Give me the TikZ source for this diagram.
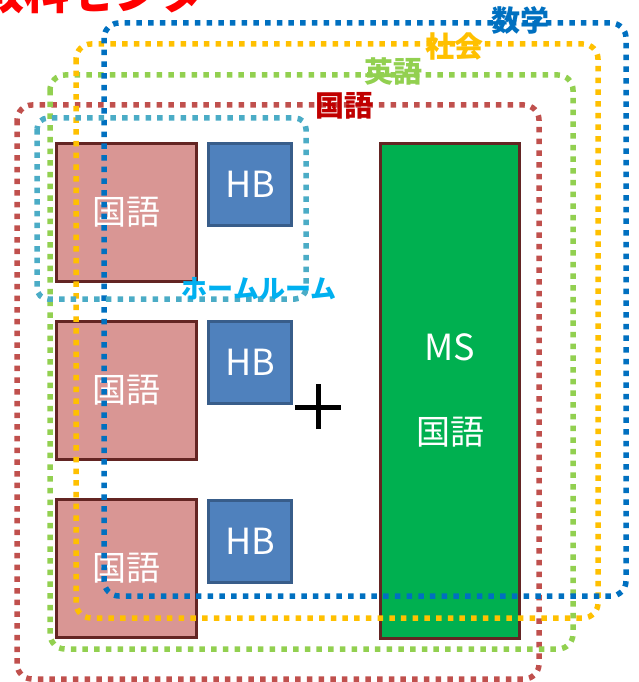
\documentclass[tikz,border=0pt]{standalone}
\usepackage{fontspec}
\setmainfont{Noto Sans CJK JP}
\usetikzlibrary{positioning}

\definecolor{zoneRed}{HTML}{C0504D}
\definecolor{zoneGreen}{HTML}{92D050}
\definecolor{zoneYellow}{HTML}{FFC000}
\definecolor{zoneBlue}{HTML}{0070C0}
\definecolor{zoneHR}{HTML}{4BACC6}
\definecolor{labelRed}{HTML}{C00000}
\definecolor{labelHR}{HTML}{00B0F0}
\definecolor{titleRed}{HTML}{FF0000}
\definecolor{roomFill}{HTML}{D99694}
\definecolor{roomLine}{HTML}{632523}
\definecolor{hbFill}{HTML}{4F81BD}
\definecolor{hbLine}{HTML}{385D8A}
\definecolor{msFill}{HTML}{00B050}

\tikzset{
  room/.style={draw=roomLine, fill=roomFill, line width=3pt, text=white,
    minimum width=140pt, minimum height=138pt, inner sep=0pt,
    font=\fontsize{34}{40}\selectfont},
  hbbox/.style={draw=hbLine, fill=hbFill, line width=3pt, text=white,
    minimum width=83pt, minimum height=82pt, inner sep=0pt,
    font=\fontsize{36}{42}\selectfont},
  zone/.style={line width=5.5pt, dash pattern=on 5.5pt off 6.2pt, rounded corners=15pt},
  zonelabel/.style={inner sep=0pt, font=\fontsize{29}{34}\selectfont\bfseries}
}

\begin{document}
\begin{tikzpicture}[x=1pt, y=-1pt]
    \useasboundingbox (0,0) rectangle (638,682);
    % title, cut off at the top
    \node[anchor=base west, inner sep=0pt, text=titleRed,
      font=\fontsize{45}{50}\selectfont\bfseries] (title) at (-21,10) {教科センター};
    % home rooms
    \node[room] (K1) at (126.5,212.5) {国語};
    \node[room, below=37pt of K1] (K2) {国語};
    \node[room, below=37pt of K2] (K3) {国語};
    \node[hbbox] (HB1) at (250,184.5) {HB};
    \node[hbbox] (HB2) at (250,362.5) {HB};
    \node[hbbox] (HB3) at (250,541) {HB};
    % media space
    \node[draw=roomLine, fill=msFill, line width=3pt, minimum width=139pt,
      minimum height=495pt, inner sep=0pt] (MS) at (450,391) {};
    \node[text=white, font=\fontsize{36}{42}\selectfont] (MSt) at (450,347) {MS};
    \node[text=white, font=\fontsize{34}{40}\selectfont] (MSk) at (450,432) {国語};
    % plus
    \coordinate (plus) at (318,407);
    \draw[line width=5pt] ([yshift=-22pt]plus) -- ([yshift=23pt]plus);
    \draw[line width=5pt] ([xshift=-23pt]plus) -- ([xshift=23pt]plus);
    % zones
    \draw[zone, draw=zoneRed] (17,105) rectangle (539,679);
    \draw[zone, draw=zoneGreen] (50,75) rectangle (573,649);
    \draw[zone, draw=zoneYellow] (76,44) rectangle (598,618);
    \draw[zone, draw=zoneBlue] (104,23) rectangle (626,596);
    \draw[zone, draw=zoneHR, rounded corners=11pt] (37,118) rectangle (306,299);
    % zone labels
    \node[zonelabel, text=zoneBlue] (Lsu) at (520,20) {数学};
    \node[zonelabel, text=zoneYellow] (Lsh) at (454,47) {社会};
    \node[zonelabel, text=zoneGreen] (Lei) at (393,72) {英語};
    \node[zonelabel, text=labelRed] (Lko) at (344,106) {国語};
    \node[zonelabel, text=labelHR, font=\fontsize{26}{30}\selectfont\bfseries] (Lhr) at (259,289) {ホームルーム};
\end{tikzpicture}
\end{document}
